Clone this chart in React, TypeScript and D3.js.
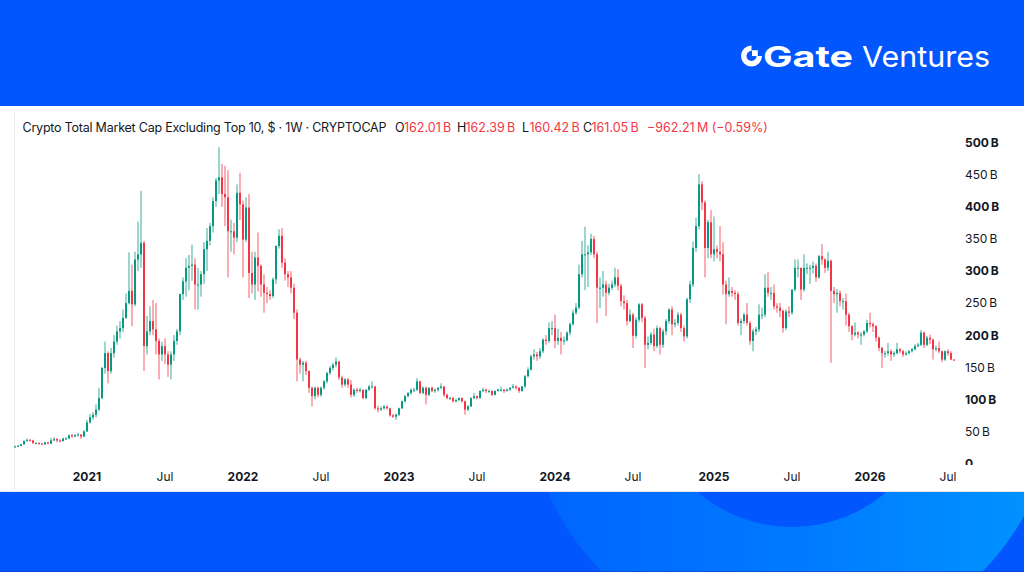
import React from 'react';
import * as d3 from 'd3';

// Weekly candles (values in billions USD). Open of each week = previous week's close.
const START_DATE = '2020-07-20';
const FIRST_OPEN = 25.5;

const closes = [
  26.5, 27.5, 30, 35, 37, 36, 32, 32, 31, 30,
  33, 31, 36, 38, 36, 35, 39, 39, 44, 42,
  44, 45, 42, 50, 64, 72, 76, 84, 102, 149,
  172, 144, 172, 190, 206, 211, 227, 250, 269, 248,
  318, 326, 344, 183, 206, 222, 209, 191, 170, 183,
  170, 154, 170, 191, 206, 264, 284, 305, 308, 310,
  279, 279, 295, 334, 347, 370, 409, 441, 446, 420,
  415, 362, 362, 352, 422, 404, 349, 399, 297, 279,
  321, 308, 279, 266, 264, 261, 287, 339, 355, 313,
  295, 290, 274, 235, 162, 154, 157, 144, 118, 105,
  118, 107, 118, 128, 141, 149, 154, 159, 134, 123,
  131, 123, 107, 115, 113, 115, 102, 115, 120, 120,
  86, 84, 86, 89, 86, 75, 73, 76, 86, 97,
  105, 110, 115, 115, 128, 110, 118, 107, 118, 113,
  115, 118, 120, 107, 102, 102, 97, 99, 102, 97,
  84, 89, 102, 105, 102, 113, 115, 113, 113, 107,
  113, 115, 115, 113, 115, 118, 120, 118, 113, 120,
  136, 146, 167, 170, 167, 175, 193, 191, 211, 211,
  191, 196, 191, 192, 204, 217, 235, 243, 295, 326,
  326, 329, 350, 326, 274, 274, 279, 266, 274, 279,
  290, 277, 253, 250, 222, 232, 199, 224, 248, 227,
  185, 188, 201, 183, 211, 185, 206, 222, 240, 217,
  219, 232, 211, 198, 256, 279, 336, 370, 435, 407,
  336, 376, 326, 334, 330, 326, 279, 264, 269, 266,
  264, 219, 222, 232, 219, 191, 206, 209, 232, 232,
  274, 266, 266, 245, 243, 238, 211, 237, 235, 271,
  305, 305, 271, 305, 305, 305, 308, 290, 323, 318,
  305, 316, 269, 264, 266, 253, 253, 232, 214, 201,
  204, 201, 201, 206, 219, 217, 214, 196, 180, 172,
  172, 175, 170, 172, 178, 175, 170, 172, 175, 178,
  183, 185, 204, 185, 196, 193, 178, 180, 175, 162,
  175, 172, 162.01, 161.05,
];

const highs = [
  28, 29, 31, 36, 39, 38, 37, 33, 33, 32,
  34, 33, 40, 41, 40, 38, 40, 41, 45, 46,
  46, 48, 46, 52, 68, 77, 80, 92, 118, 150,
  190, 175, 180, 200, 215, 222, 240, 265, 329, 310,
  330, 377, 425, 347, 230, 245, 255, 250, 195, 190,
  195, 175, 175, 200, 210, 265, 290, 320, 325, 341,
  320, 305, 300, 345, 367, 375, 415, 445, 493, 467,
  464, 457, 380, 375, 435, 453, 410, 415, 420, 330,
  330, 360, 310, 295, 275, 270, 290, 340, 365, 367,
  320, 300, 300, 280, 240, 165, 160, 160, 145, 120,
  120, 120, 120, 130, 143, 152, 157, 165, 160, 137,
  133, 133, 130, 117, 118, 118, 115, 116, 122, 128,
  121, 90, 89, 91, 90, 87, 77, 78, 87, 98,
  107, 111, 117, 118, 133, 129, 120, 120, 119, 120,
  117, 119, 125, 121, 109, 104, 104, 101, 103, 103,
  98, 91, 103, 110, 106, 114, 118, 117, 115, 114,
  114, 117, 120, 116, 117, 119, 124, 122, 119, 121,
  138, 150, 170, 178, 174, 180, 195, 200, 220, 222,
  232, 210, 205, 198, 206, 220, 240, 250, 310, 347,
  369, 340, 358, 355, 330, 290, 300, 285, 280, 285,
  305, 303, 280, 262, 255, 240, 235, 228, 250, 250,
  230, 198, 205, 210, 215, 213, 210, 225, 242, 245,
  225, 236, 235, 215, 258, 285, 346, 383, 451, 440,
  410, 380, 395, 385, 340, 370, 345, 285, 290, 275,
  270, 268, 226, 235, 250, 222, 210, 213, 248, 243,
  295, 298, 275, 279, 250, 250, 240, 240, 245, 272,
  318, 318, 305, 326, 312, 310, 315, 312, 325, 342,
  320, 330, 318, 275, 272, 270, 258, 265, 235, 216,
  220, 206, 205, 208, 224, 235, 220, 216, 198, 182,
  176, 188, 178, 175, 188, 180, 177, 175, 177, 180,
  186, 188, 208, 206, 199, 201, 195, 184, 190, 176,
  176, 178, 175, 162.39,
];

const lows = [
  25, 26, 27, 29, 34, 34, 30, 30, 29, 29,
  29, 30, 30, 35, 33, 33, 34, 37, 38, 40,
  41, 42, 38, 41, 49, 62, 68, 72, 82, 100,
  140, 125, 140, 165, 185, 195, 205, 225, 248, 214,
  245, 300, 305, 144, 170, 200, 200, 170, 131, 160,
  155, 135, 131, 160, 185, 200, 255, 260, 270, 285,
  240, 240, 260, 280, 300, 340, 360, 400, 420, 400,
  370, 290, 330, 326, 345, 380, 290, 345, 258, 265,
  255, 268, 260, 235, 250, 255, 258, 280, 335, 305,
  285, 275, 265, 225, 128, 140, 128, 138, 110, 89,
  100, 103, 104, 115, 125, 138, 145, 150, 130, 118,
  120, 118, 103, 104, 110, 111, 100, 100, 113, 117,
  84, 80, 82, 84, 84, 73, 71, 68, 74, 85,
  95, 103, 107, 111, 113, 108, 108, 92, 105, 111,
  110, 112, 116, 104, 100, 99, 95, 95, 97, 95,
  76, 82, 88, 100, 100, 101, 111, 110, 110, 105,
  106, 112, 112, 110, 112, 113, 117, 115, 110, 112,
  118, 134, 145, 162, 160, 163, 172, 185, 188, 200,
  180, 185, 170, 185, 190, 200, 215, 232, 240, 290,
  270, 275, 325, 320, 219, 242, 260, 230, 262, 270,
  275, 270, 245, 240, 215, 220, 180, 195, 220, 220,
  149, 178, 185, 175, 180, 170, 180, 200, 218, 200,
  212, 215, 205, 190, 195, 250, 275, 330, 365, 395,
  290, 320, 320, 315, 320, 315, 263, 217, 260, 260,
  255, 215, 200, 218, 215, 185, 175, 200, 205, 225,
  228, 260, 255, 240, 235, 228, 204, 208, 228, 232,
  268, 290, 255, 268, 295, 280, 296, 283, 288, 310,
  297, 300, 157, 250, 235, 245, 240, 215, 205, 192,
  198, 195, 185, 198, 203, 212, 205, 190, 175, 149,
  165, 168, 160, 166, 170, 172, 166, 168, 170, 173,
  176, 181, 183, 180, 183, 186, 162, 175, 172, 158,
  160, 168, 161, 160.42,
];

const yTicks = [0, 50, 100, 150, 200, 250, 300, 350, 400, 450, 500];
const xTickLabels = ['2021', 'Jul', '2022', 'Jul', '2023', 'Jul', '2024', 'Jul', '2025', 'Jul', '2026', 'Jul'];
const xTickDates = ['2021-01-01', '2021-07-01', '2022-01-01', '2022-07-01', '2023-01-01', '2023-07-01',
  '2024-01-01', '2024-07-01', '2025-01-01', '2025-07-01', '2026-01-01', '2026-07-01'];

const titleText = 'Crypto Total Market Cap Excluding Top 10, $ · 1W · CRYPTOCAP';
const ohlcKeys = ['O', 'H', 'L', 'C'];
const ohlcValues = ['162.01\u2009B', '162.39\u2009B', '160.42\u2009B', '161.05\u2009B'];
const changeText = '\u2212962.21\u2009M (\u22120.59%)';

const GREEN = '#089981';
const RED = '#F23645';
const BLUE = '#0256FE';
const FONT = "Inter, 'Liberation Sans', Arial, sans-serif";

export default function App() {
  const W = 1024, H = 572;
  const parse = d3.utcParse('%Y-%m-%d');
  const start = parse(START_DATE) as Date;
  const dates = closes.map((_, i) => d3.utcDay.offset(start, 7 * i));
  const candles = closes.map((c, i) => {
    const o = i === 0 ? FIRST_OPEN : closes[i - 1];
    return { o, c, h: Math.max(highs[i], o, c), l: Math.min(lows[i], o, c) };
  });

  const x = d3.scaleLinear().domain([0, closes.length - 1]).range([15, 954]);
  const y = d3.scaleLinear().domain([0, 500]).range([463.5, 142.7]);

  const xTicks = xTickDates.map((ds, k) => {
    const d = parse(ds) as Date;
    const idx = dates.findIndex((t) => t >= d);
    return { label: xTickLabels[k], x: x(idx), bold: xTickLabels[k] !== 'Jul' };
  });

  const ohlcX = [395, 457, 522, 583];
  const ohlcValX = [404, 465.5, 529.5, 591.5];

  // Gate logo icon
  const icx = 751.5, icy = 56, ro = 10.5, ri = 5;
  const arc = d3.arc()({ innerRadius: ri, outerRadius: ro, startAngle: Math.PI / 2, endAngle: 2 * Math.PI }) as string;

  return (
    <>
      <style>{'body{margin:0;} svg{display:block;}'}</style>
      <svg width={W} height={H} viewBox={`0 0 ${W} ${H}`} style={{ fontFamily: FONT }}>
        <defs>
          <linearGradient id="footGrad" gradientUnits="userSpaceOnUse" x1={530} y1={0} x2={1024} y2={0}>
            <stop offset="0" stopColor="#0064FF" />
            <stop offset="0.5" stopColor="#0078FF" />
            <stop offset="1" stopColor="#0092FF" />
          </linearGradient>
          <clipPath id="plotClip">
            <rect x={14} y={140} width={945} height={325} />
          </clipPath>
          <clipPath id="yAxisClip">
            <rect x={955} y={106} width={69} height={359} />
          </clipPath>
        </defs>

        <rect x={0} y={0} width={W} height={H} fill={BLUE} />
        <circle cx={792} cy={386} r={266} fill="url(#footGrad)" />
        <circle cx={792} cy={382} r={145} fill={BLUE} />
        <rect x={0} y={571} width={W} height={1} fill="#0B3FB0" opacity={0.6} />

        {/* Header logo */}
        <g fill="#fff">
          <path d={arc} transform={`translate(${icx},${icy})`} />
          <rect x={icx} y={icy - ro} width={ro * 0.55} height={ro * 0.55} transform={`translate(${ro * 0.05},${ro * 0.45})`} />
          <text x={763} y={67} fontSize={29} fontWeight={700} textLength={90} lengthAdjust="spacingAndGlyphs">Gate</text>
          <text x={862} y={67} fontSize={29} fontWeight={400} textLength={128} lengthAdjust="spacingAndGlyphs">Ventures</text>
        </g>

        {/* White chart panel */}
        <rect x={0} y={106} width={W} height={386} fill="#fff" />
        <line x1={14.5} x2={14.5} y1={112} y2={490} stroke="#E9EBF0" strokeWidth={1} />
        <line x1={0} x2={W} y1={491.5} y2={491.5} stroke="#E4E7EE" strokeWidth={1} />

        {/* Title */}
        <text x={22.5} y={131.5} fontSize={12.5} fill="#131722" textLength={364} lengthAdjust="spacing">{titleText}</text>
        {ohlcKeys.map((k, i) => (
          <g key={k}>
            <text x={ohlcX[i]} y={131.5} fontSize={12.5} fill="#131722">{k}</text>
            <text x={ohlcValX[i]} y={131.5} fontSize={12.5} fill={RED}>{ohlcValues[i]}</text>
          </g>
        ))}
        <text x={647} y={131.5} fontSize={12.5} fill={RED}>{changeText}</text>

        {/* Candles */}
        <g clipPath="url(#plotClip)">
          {candles.map((d, i) => {
            const cx = x(i);
            const col = d.c >= d.o ? GREEN : RED;
            const yTop = y(Math.max(d.o, d.c));
            const yBot = y(Math.min(d.o, d.c));
            return (
              <g key={i}>
                <line x1={cx} x2={cx} y1={y(d.h)} y2={y(d.l)} stroke={col} strokeWidth={1} strokeOpacity={0.8} />
                <rect x={cx - 1} y={yTop} width={2} height={Math.max(1, yBot - yTop)} fill={col} />
              </g>
            );
          })}
        </g>

        {/* Y axis */}
        <g clipPath="url(#yAxisClip)">
          {yTicks.map((v) => (
            <text key={v} x={965} y={y(v)} dy="0.36em" fontSize={12} fill="#131722"
              fontWeight={v % 100 === 0 ? 700 : 400}>
              {v === 0 ? '0' : `${v}\u2009B`}
            </text>
          ))}
        </g>

        {/* X axis */}
        {xTicks.map((t, k) => (
          <text key={k} x={t.x} y={481} textAnchor="middle" fontSize={12} fill="#131722"
            fontWeight={t.bold ? 700 : 400}>{t.label}</text>
        ))}
      </svg>
    </>
  );
}
